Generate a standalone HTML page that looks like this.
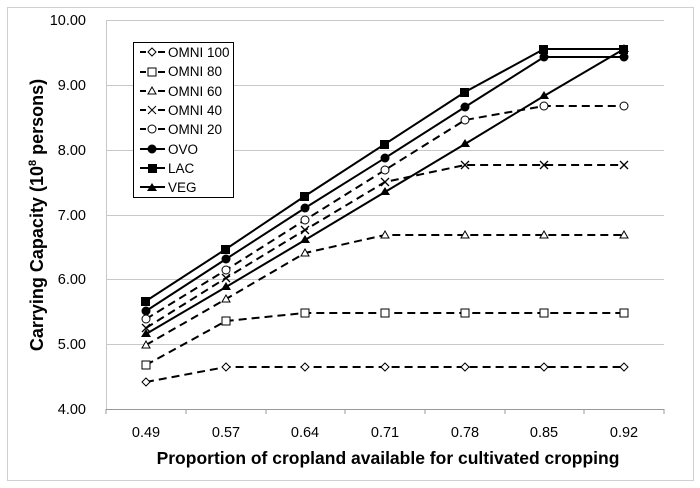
<!DOCTYPE html>
<html><head><style>body{margin:0;background:#fff}svg{display:block;font-family:"Liberation Sans",sans-serif}</style></head>
<body>
<svg width="700" height="488" viewBox="0 0 700 488" xmlns="http://www.w3.org/2000/svg">
<rect x="7.5" y="7.5" width="686" height="473" fill="#fff" stroke="#d0d0d0"/>
<g stroke="#c8c8c8" stroke-width="1">
<line x1="106" x2="664" y1="20.5" y2="20.5"/><line x1="106" x2="664" y1="85.5" y2="85.5"/><line x1="106" x2="664" y1="150.5" y2="150.5"/><line x1="106" x2="664" y1="215.5" y2="215.5"/><line x1="106" x2="664" y1="279.5" y2="279.5"/><line x1="106" x2="664" y1="344.5" y2="344.5"/>
<line x1="106.5" x2="106.5" y1="20" y2="409"/>
</g>
<g stroke="#999"><line x1="106" x2="664" y1="409.5" y2="409.5"/>
<line x1="186" x2="186" y1="409" y2="414"/><line x1="266" x2="266" y1="409" y2="414"/><line x1="345" x2="345" y1="409" y2="414"/><line x1="425" x2="425" y1="409" y2="414"/><line x1="505" x2="505" y1="409" y2="414"/><line x1="584" x2="584" y1="409" y2="414"/><line x1="664" x2="664" y1="409" y2="414"/><line x1="106" x2="106" y1="409" y2="414"/></g>
<g font-size="14.5" fill="#000" text-anchor="end">
<text x="86" y="25">10.00</text><text x="86" y="90">9.00</text><text x="86" y="155">8.00</text><text x="86" y="220">7.00</text><text x="86" y="284">6.00</text><text x="86" y="349">5.00</text><text x="86" y="414">4.00</text></g>
<g font-size="14.5" fill="#000" text-anchor="middle">
<text x="146" y="437">0.49</text><text x="226" y="437">0.57</text><text x="305" y="437">0.64</text><text x="385" y="437">0.71</text><text x="465" y="437">0.78</text><text x="544" y="437">0.85</text><text x="624" y="437">0.92</text></g>
<text x="388" y="464" font-size="17.5" font-weight="bold" text-anchor="middle">Proportion of cropland available for cultivated cropping</text>
<text transform="translate(43,215) rotate(-90)" font-size="18" font-weight="bold" text-anchor="middle">Carrying Capacity (10<tspan font-size="11" dy="-7">8</tspan><tspan dy="7"> persons)</tspan></text>
<g fill="none" stroke="#000" stroke-width="2">
<polyline stroke-dasharray="8,5" points="146,382 226,367 305,367 385,367 465,367 544,367 624,367"/>
<polyline stroke-dasharray="8,5" points="146,365 226,321 305,313 385,313 465,313 544,313 624,313"/>
<polyline stroke-dasharray="8,5" points="146,345 226,299 305,253 385,235 465,235 544,235 624,235"/>
<polyline stroke-dasharray="8,5" points="146,328 226,278 305,230 385,182 465,165 544,165 624,165"/>
<polyline stroke-dasharray="8,5" points="146,319 226,270 305,220 385,170 465,120 544,106 624,106"/>
<polyline points="146,311 226,259 305,208 385,158 465,107 544,57 624,57"/>
<polyline points="146,301 226,249 305,196 385,144 465,92 544,49 624,49"/>
<polyline points="146,334 226,287 305,240 385,192 465,144 544,96 624,49"/>
</g>
<g stroke="#000" stroke-width="1" fill="#fff">
<path d="M146,378 l4,4 -4,4 -4,-4z"/><path d="M226,363 l4,4 -4,4 -4,-4z"/><path d="M305,363 l4,4 -4,4 -4,-4z"/><path d="M385,363 l4,4 -4,4 -4,-4z"/><path d="M465,363 l4,4 -4,4 -4,-4z"/><path d="M544,363 l4,4 -4,4 -4,-4z"/><path d="M624,363 l4,4 -4,4 -4,-4z"/>
<rect x="142" y="361" width="8" height="8"/><rect x="222" y="317" width="8" height="8"/><rect x="301" y="309" width="8" height="8"/><rect x="381" y="309" width="8" height="8"/><rect x="461" y="309" width="8" height="8"/><rect x="540" y="309" width="8" height="8"/><rect x="620" y="309" width="8" height="8"/>
<path d="M146,341l4,7h-8z"/><path d="M226,295l4,7h-8z"/><path d="M305,249l4,7h-8z"/><path d="M385,231l4,7h-8z"/><path d="M465,231l4,7h-8z"/><path d="M544,231l4,7h-8z"/><path d="M624,231l4,7h-8z"/>
<circle cx="146" cy="319" r="4"/><circle cx="226" cy="270" r="4"/><circle cx="305" cy="220" r="4"/><circle cx="385" cy="170" r="4"/><circle cx="465" cy="120" r="4"/><circle cx="544" cy="106" r="4"/><circle cx="624" cy="106" r="4"/>
</g>
<g stroke="#000" stroke-width="1.3" fill="none">
<path d="M142,324l8,8M150,324l-8,8M222,274l8,8M230,274l-8,8M301,226l8,8M309,226l-8,8M381,178l8,8M389,178l-8,8M461,161l8,8M469,161l-8,8M540,161l8,8M548,161l-8,8M620,161l8,8M628,161l-8,8"/>
</g>
<g fill="#000">
<circle cx="146" cy="311" r="4.5"/><circle cx="226" cy="259" r="4.5"/><circle cx="305" cy="208" r="4.5"/><circle cx="385" cy="158" r="4.5"/><circle cx="465" cy="107" r="4.5"/><circle cx="544" cy="57" r="4.5"/><circle cx="624" cy="57" r="4.5"/>
<rect x="141" y="297" width="9" height="9"/><rect x="221" y="245" width="9" height="9"/><rect x="300" y="192" width="9" height="9"/><rect x="380" y="140" width="9" height="9"/><rect x="460" y="88" width="9" height="9"/><rect x="539" y="45" width="9" height="9"/><rect x="619" y="45" width="9" height="9"/>
<path d="M146,329l5,8h-10z"/><path d="M226,282l5,8h-10z"/><path d="M305,235l5,8h-10z"/><path d="M385,187l5,8h-10z"/><path d="M465,139l5,8h-10z"/><path d="M544,91l5,8h-10z"/><path d="M624,44l5,8h-10z"/>
</g>
<rect x="133.5" y="42.5" width="100" height="155" fill="#fff" stroke="#000"/>
<g font-size="13.5" fill="#000">
<text x="168" y="57">OMNI 100</text><text x="168" y="76">OMNI 80</text><text x="168" y="96">OMNI 60</text><text x="168" y="115">OMNI 40</text><text x="168" y="134">OMNI 20</text><text x="168" y="154">OVO</text><text x="168" y="173">LAC</text><text x="168" y="192">VEG</text></g>
<g stroke="#000" stroke-width="2">
<path d="M140,52h6M158,52h7M140,72h6M158,72h7M140,91h6M158,91h7M140,110h6M158,110h7M140,129h6M158,129h7M140,149h25M140,168h25M140,187h25"/></g>
<g stroke="#000" fill="#fff">
<path d="M152,48l4,4-4,4-4-4z"/><rect x="148" y="68" width="8" height="8"/><path d="M152,87l4,7h-8z"/><path d="M148,106l8,8M156,106l-8,8"/><circle cx="152" cy="129" r="4"/></g>
<g fill="#000"><circle cx="152" cy="149" r="4.5"/><rect x="148" y="164" width="9" height="9"/><path d="M152,183l5,8h-10z"/></g>
</svg>
</body></html>
